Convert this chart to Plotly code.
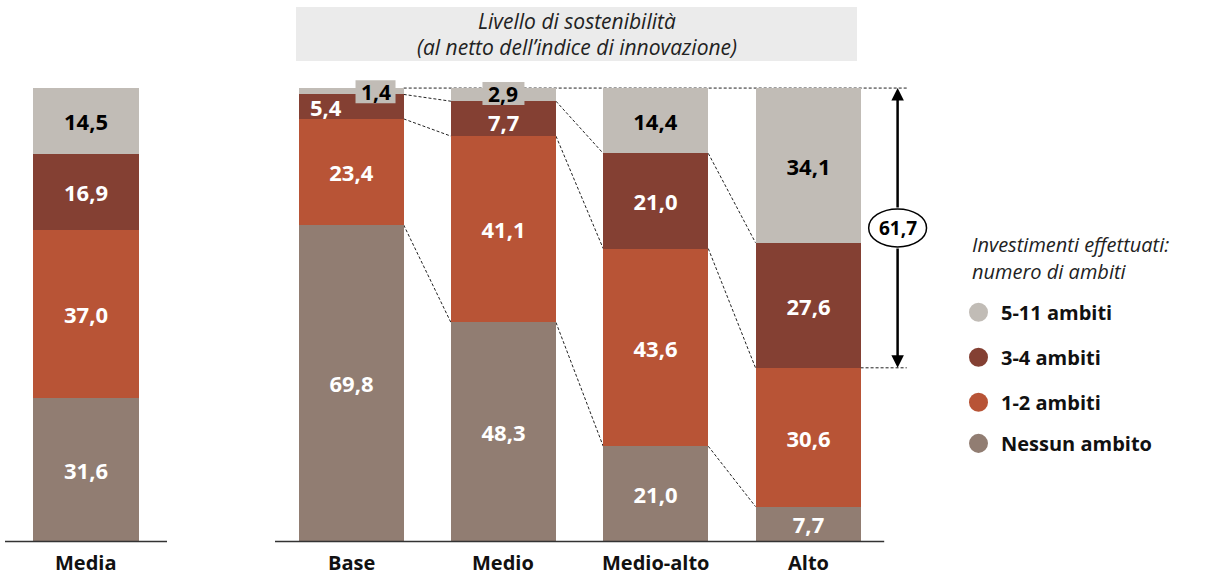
import plotly.graph_objects as go

# ---------------- data ----------------
series = ["Nessun ambito", "1-2 ambiti", "3-4 ambiti", "5-11 ambiti"]
colors = ["#917D72", "#B85436", "#844033", "#C1BCB6"]
text_colors = ["white", "white", "white", "black"]

media_cat = ["Media"]
media_nessun = [31.6]
media_12 = [37.0]
media_34 = [16.9]
media_511 = [14.5]

levels = ["Base", "Medio", "Medio-alto", "Alto"]
lev_nessun = [69.8, 48.3, 21.0, 7.7]
lev_12 = [23.4, 41.1, 43.6, 30.6]
lev_34 = [5.4, 7.7, 21.0, 27.6]
lev_511 = [1.4, 2.9, 14.4, 34.1]

title_lines = ["Livello di sostenibilità", "(al netto dell’indice di innovazione)"]
legend_title = ["Investimenti effettuati:", "numero di ambiti"]
# --------------------------------------

FONT = "Open Sans"
W, H = 1229, 575
T, B = 79.0, 29.47
YR = [-1, 102]
BW_R = 0.69
BW_L = 0.654
VAL_SIZE = 22
UX = 152.3               # px per category on right panel
UY = (H - T - B) / (YR[1] - YR[0])   # px per percentage point


def fmt(v):
    return f"{v:.1f}".replace(".", ",")


def px(p):
    return p / W


def py(p):
    return (H - B - p) / (H - T - B)


media_vals = [media_nessun, media_12, media_34, media_511]
lev_vals = [lev_nessun, lev_12, lev_34, lev_511]

fig = go.Figure()

# left panel bars
for s, vals, c, tc in zip(series, media_vals, colors, text_colors):
    fig.add_trace(go.Bar(
        x=media_cat, y=vals, name=s, marker=dict(color=c, line=dict(width=0)),
        width=BW_L, text=[fmt(v) for v in vals], textposition="inside",
        insidetextanchor="middle", constraintext="none", textangle=0,
        textfont=dict(family=FONT, size=VAL_SIZE, color=tc, weight="bold"),
        xaxis="x", yaxis="y", showlegend=False, hoverinfo="skip"))

# cumulative sums for right panel
cum = []
for i in range(len(levels)):
    acc = [0.0]
    for k in range(len(series)):
        acc.append(acc[-1] + lev_vals[k][i])
    cum.append(acc)

shapes = []
annotations = []
for k, (s, vals, c, tc) in enumerate(zip(series, lev_vals, colors, text_colors)):
    texts = []
    for i, v in enumerate(vals):
        if k == 3 and v < 5:
            # tiny top segment: label in a grey box sitting on the bar top
            texts.append("")
            cx = i + (0.16 if i == 0 else 0.0)
            cy = cum[i][4] - (0.8 if i == 0 else 1.2)
            hw = (20 if i == 0 else 21) / UX
            hh = 11.5 / UY
            shapes.append(dict(type="rect", xref="x2", yref="y2",
                               x0=cx - hw, x1=cx + hw, y0=cy - hh, y1=cy + hh,
                               fillcolor=c, line=dict(width=0), layer="above"))
            annotations.append(dict(
                x=cx, y=cy, xref="x2", yref="y2", text=fmt(v), showarrow=False,
                font=dict(family=FONT, size=21, color="black", weight="bold"),
                xanchor="center", yanchor="middle"))
        elif k == 2 and v < 6:
            texts.append("")
            annotations.append(dict(
                x=i - 0.167, y=cum[i][k] + v / 2, xref="x2", yref="y2",
                text=fmt(v), showarrow=False,
                font=dict(family=FONT, size=VAL_SIZE, color="white", weight="bold"),
                xanchor="center", yanchor="middle"))
        elif k == 2 and v < 10:
            texts.append("")
            annotations.append(dict(
                x=i, y=cum[i][k] + v / 2, xref="x2", yref="y2", yshift=-3,
                text=fmt(v), showarrow=False,
                font=dict(family=FONT, size=VAL_SIZE, color="white", weight="bold"),
                xanchor="center", yanchor="middle"))
        else:
            texts.append(fmt(v))
    fig.add_trace(go.Bar(
        x=list(range(len(levels))), y=vals, name=s,
        marker=dict(color=c, line=dict(width=0)),
        width=BW_R, text=texts, textposition="inside",
        insidetextanchor="middle", constraintext="none", textangle=0,
        textfont=dict(family=FONT, size=VAL_SIZE, color=tc, weight="bold"),
        xaxis="x2", yaxis="y2", showlegend=False, hoverinfo="skip"))

dash = "3px,2px"
# connectors between consecutive bars
for i in range(len(levels) - 1):
    for k in range(1, len(series)):
        shapes.append(dict(type="line", xref="x2", yref="y2",
                           x0=i + BW_R / 2, y0=cum[i][k],
                           x1=i + 1 - BW_R / 2, y1=cum[i + 1][k],
                           line=dict(color="#222", width=1, dash=dash), layer="below"))

arrow_x = 3.588
last = len(levels) - 1
top_v = cum[last][4]
low_v = cum[last][2]
span = top_v - low_v
shapes.append(dict(type="line", xref="x2", yref="y2", x0=BW_R / 2, x1=arrow_x + 0.06,
                   y0=top_v, y1=top_v, line=dict(color="#222", width=1, dash=dash), layer="below"))
shapes.append(dict(type="line", xref="x2", yref="y2", x0=last + BW_R / 2, x1=arrow_x + 0.06,
                   y0=low_v, y1=low_v, line=dict(color="#222", width=1, dash=dash), layer="below"))

mid = low_v + span / 2
ex, ey = 0.19, 4.2
shapes.append(dict(type="circle", xref="x2", yref="y2", x0=arrow_x - ex, x1=arrow_x + ex,
                   y0=mid - ey, y1=mid + ey, fillcolor="white",
                   line=dict(color="black", width=1.5), layer="above"))

annotations.append(dict(x=arrow_x, y=top_v, ax=arrow_x, ay=mid + ey, xref="x2", yref="y2",
                        axref="x2", ayref="y2", text="", showarrow=True, arrowhead=2,
                        arrowsize=1, arrowwidth=2.5, arrowcolor="black", standoff=0,
                        startstandoff=0))
annotations.append(dict(x=arrow_x, y=low_v, ax=arrow_x, ay=mid - ey, xref="x2", yref="y2",
                        axref="x2", ayref="y2", text="", showarrow=True, arrowhead=2,
                        arrowsize=1, arrowwidth=2.5, arrowcolor="black", standoff=0,
                        startstandoff=0))
annotations.append(dict(x=arrow_x, y=mid, xref="x2", yref="y2", text=fmt(span),
                        showarrow=False, font=dict(family=FONT, size=19, color="black",
                                                   weight="bold")))

# baselines
shapes.append(dict(type="line", xref="x", yref="y", x0=-0.5, x1=0.5, y0=0, y1=0,
                   line=dict(color="#333", width=1.5), layer="above"))
shapes.append(dict(type="line", xref="x2", yref="y2", x0=-0.5, x1=3.5, y0=0, y1=0,
                   line=dict(color="#333", width=1.5), layer="above"))

# category labels
for c in media_cat:
    annotations.append(dict(x=c, y=0, xref="x", yref="y", text=c, showarrow=False,
                            yshift=-21, yanchor="middle",
                            font=dict(family=FONT, size=20, color="#111", weight="bold")))
for i, c in enumerate(levels):
    annotations.append(dict(x=i, y=0, xref="x2", yref="y2", text=c, showarrow=False,
                            yshift=-21, yanchor="middle",
                            font=dict(family=FONT, size=20, color="#111", weight="bold")))

# title box
shapes.append(dict(type="rect", xref="paper", yref="paper", x0=px(296), x1=px(857),
                   y0=py(61), y1=py(7), fillcolor="#EBEBEB", line=dict(width=0)))
for line, yy in zip(title_lines, [21, 47]):
    annotations.append(dict(x=px(576.5), y=py(yy), xref="paper", yref="paper",
                            text=f"<i>{line}</i>", showarrow=False,
                            xanchor="center", yanchor="middle",
                            font=dict(family=FONT, size=21, color="#222")))

# legend
for line, yy in zip(legend_title, [244, 271]):
    annotations.append(dict(x=px(970), y=py(yy), xref="paper", yref="paper",
                            text=f"<i>{line}</i>", showarrow=False,
                            xanchor="left", yanchor="middle",
                            font=dict(family=FONT, size=20, color="#222")))
leg_y = [312, 357, 402, 443]
for s, c, yy in zip(series[::-1], colors[::-1], leg_y):
    shapes.append(dict(type="circle", xref="paper", yref="paper",
                       x0=px(969), x1=px(988), y0=py(yy + 9.5), y1=py(yy - 9.5),
                       fillcolor=c, line=dict(width=0)))
    annotations.append(dict(x=px(999), y=py(yy), xref="paper", yref="paper",
                            text=s, showarrow=False, xanchor="left", yanchor="middle",
                            font=dict(family=FONT, size=20, color="#111", weight="bold")))

r_lo, r_hi = 275, 930
fig.update_layout(
    width=W, height=H, barmode="stack", bargap=0,
    margin=dict(l=0, r=0, t=T, b=B, pad=0),
    paper_bgcolor="white", plot_bgcolor="rgba(0,0,0,0)",
    xaxis=dict(domain=[px(5), px(167)], range=[-0.5, 0.5], type="category",
               showgrid=False, showline=False, showticklabels=False, zeroline=False,
               fixedrange=True),
    yaxis=dict(domain=[0, 1], range=YR, showgrid=False, showline=False,
               showticklabels=False, zeroline=False),
    xaxis2=dict(domain=[px(r_lo), px(r_hi)],
                range=[-0.5, -0.5 + (r_hi - r_lo) / UX],
                showgrid=False, showline=False, showticklabels=False, zeroline=False),
    yaxis2=dict(domain=[0, 1], range=YR, anchor="x2", showgrid=False, showline=False,
                showticklabels=False, zeroline=False),
    shapes=shapes, annotations=annotations, showlegend=False,
    font=dict(family=FONT),
)

fig.write_html("out.html", config={"displayModeBar": False},
               post_script="document.body.style.margin='0';")
